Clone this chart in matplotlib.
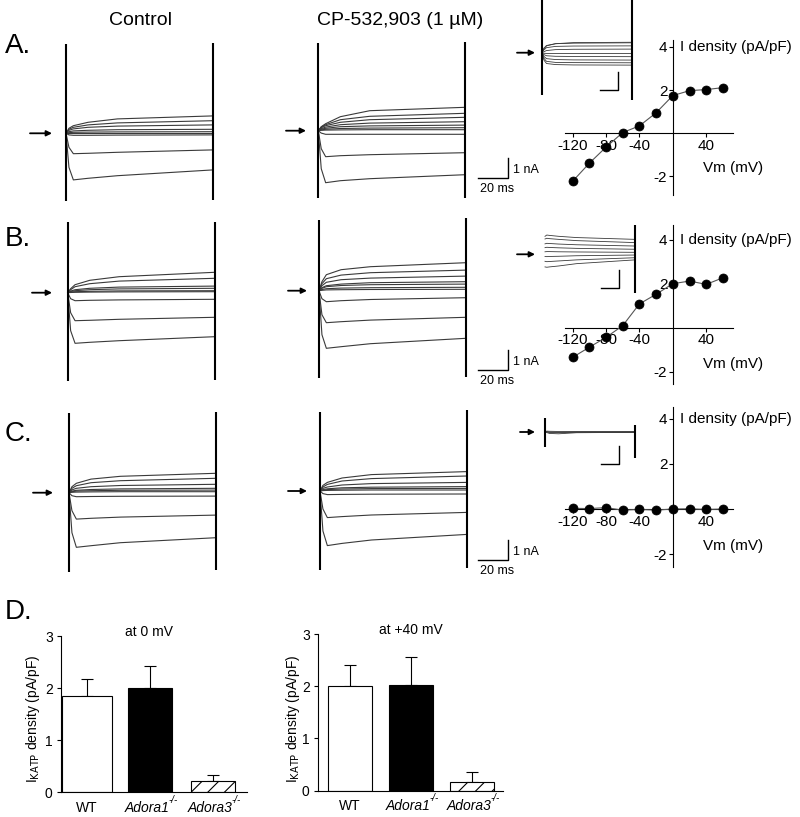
import matplotlib

matplotlib.use("Agg")

import matplotlib.pyplot as plt

plt.rcParams["font.family"] = ["Liberation Sans", "DejaVu Sans"]
plt.rcParams["axes.unicode_minus"] = False
plt.rcParams["hatch.linewidth"] = 0.8

W, H = 800, 817

# ---- current traces (nA) sampled at these times (ms) ----
T_MS = [0, 2, 5, 15, 35, 100]

CTRL_A = [
    [0, 0.25, 0.38, 0.55, 0.72, 0.87],
    [0, 0.20, 0.30, 0.42, 0.52, 0.63],
    [0, 0.15, 0.22, 0.30, 0.36, 0.42],
    [0, 0.08, 0.12, 0.15, 0.18, 0.20],
    [0, 0.03, 0.05, 0.06, 0.07, 0.08],
    [0, 0.00, 0.00, 0.00, 0.00, 0.00],
    [0, -0.08, -0.10, -0.10, -0.09, -0.08],
    [0, -0.70, -1.02, -1.00, -0.95, -0.83],
    [0, -1.70, -2.33, -2.25, -2.12, -1.83],
]
CP_A = [
    [0, 0.20, 0.35, 0.70, 1.00, 1.17],
    [0, 0.18, 0.30, 0.55, 0.72, 0.87],
    [0, 0.15, 0.25, 0.42, 0.55, 0.67],
    [0, 0.10, 0.18, 0.30, 0.38, 0.45],
    [0, 0.07, 0.12, 0.20, 0.24, 0.28],
    [0, 0.04, 0.07, 0.11, 0.13, 0.15],
    [0, 0.02, 0.03, 0.04, 0.05, 0.05],
    [0, -0.12, -0.18, -0.18, -0.18, -0.18],
    [0, -0.90, -1.30, -1.25, -1.20, -1.10],
    [0, -1.90, -2.60, -2.50, -2.40, -2.20],
]
CTRL_B = [
    [0, 0.20, 0.40, 0.62, 0.80, 1.02],
    [0, 0.15, 0.30, 0.45, 0.58, 0.72],
    [0, 0.08, 0.15, 0.22, 0.28, 0.33],
    [0, 0.06, 0.10, 0.15, 0.19, 0.22],
    [0, 0.03, 0.05, 0.07, 0.09, 0.10],
    [0, 0.01, 0.02, 0.03, 0.04, 0.05],
    [0, -0.30, -0.40, -0.38, -0.36, -0.33],
    [0, -1.00, -1.40, -1.38, -1.33, -1.23],
    [0, -1.90, -2.53, -2.48, -2.40, -2.20],
]
CP_B = [
    [0, 0.45, 0.80, 1.05, 1.20, 1.40],
    [0, 0.35, 0.60, 0.78, 0.90, 1.03],
    [0, 0.25, 0.42, 0.55, 0.63, 0.73],
    [0, 0.15, 0.25, 0.33, 0.40, 0.45],
    [0, 0.12, 0.20, 0.26, 0.30, 0.33],
    [0, 0.06, 0.10, 0.13, 0.15, 0.17],
    [0, 0.02, 0.04, 0.05, 0.06, 0.07],
    [0, -0.40, -0.55, -0.50, -0.44, -0.35],
    [0, -1.20, -1.60, -1.55, -1.47, -1.33],
    [0, -2.20, -2.88, -2.80, -2.65, -2.38],
]
CTRL_C = [
    [0, 0.30, 0.47, 0.68, 0.82, 0.97],
    [0, 0.22, 0.35, 0.50, 0.60, 0.72],
    [0, 0.14, 0.22, 0.30, 0.36, 0.42],
    [0, 0.08, 0.12, 0.16, 0.19, 0.22],
    [0, 0.05, 0.08, 0.10, 0.12, 0.13],
    [0, 0.02, 0.03, 0.04, 0.05, 0.05],
    [0, -0.15, -0.20, -0.19, -0.18, -0.17],
    [0, -0.90, -1.32, -1.28, -1.22, -1.12],
    [0, -2.00, -2.73, -2.65, -2.50, -2.25],
]
CP_C = [
    [0, 0.28, 0.43, 0.65, 0.82, 0.97],
    [0, 0.20, 0.33, 0.50, 0.62, 0.75],
    [0, 0.13, 0.20, 0.30, 0.37, 0.43],
    [0, 0.07, 0.11, 0.16, 0.19, 0.22],
    [0, 0.04, 0.07, 0.10, 0.12, 0.13],
    [0, 0.02, 0.03, 0.04, 0.05, 0.05],
    [0, -0.13, -0.18, -0.17, -0.16, -0.15],
    [0, -0.90, -1.33, -1.28, -1.20, -1.07],
    [0, -2.00, -2.73, -2.62, -2.45, -2.17],
]
# CP-sensitive currents shown in the small insets
INSET_A = [
    [0, 0.20, 0.38, 0.50, 0.56, 0.58],
    [0, 0.25, 0.40, 0.50, 0.53, 0.55],
    [0, 0.15, 0.28, 0.35, 0.37, 0.38],
    [0, 0.05, 0.12, 0.17, 0.19, 0.20],
    [0, -0.03, -0.04, -0.04, -0.04, -0.04],
    [0, -0.10, -0.17, -0.20, -0.21, -0.22],
    [0, -0.20, -0.33, -0.38, -0.40, -0.41],
    [0, -0.30, -0.48, -0.54, -0.55, -0.56],
    [0, -0.40, -0.60, -0.66, -0.68, -0.69],
]
INSET_B = [
    [1.00, 1.07, 1.05, 1.00, 0.93, 0.83],
    [0.85, 0.89, 0.87, 0.83, 0.76, 0.65],
    [0.58, 0.61, 0.60, 0.57, 0.53, 0.46],
    [0.37, 0.39, 0.38, 0.36, 0.33, 0.28],
    [0.14, 0.15, 0.15, 0.14, 0.13, 0.11],
    [-0.12, -0.13, -0.12, -0.11, -0.08, -0.04],
    [-0.39, -0.41, -0.40, -0.37, -0.31, -0.19],
    [-0.70, -0.72, -0.70, -0.65, -0.52, -0.31],
]
INSET_C = [
    [0, 0.05, 0.04, 0.03, 0.03, 0.03],
    [0, 0.02, 0.00, -0.02, 0.00, 0.01],
    [0, -0.03, -0.08, -0.10, -0.04, -0.02],
    [0, 0.00, -0.03, -0.04, -0.02, -0.03],
]

# clipped capacitive transients at step on / off: (top, bottom) in nA
SPIKES_CTRL_A = [(4.45, -3.40), (4.50, -3.33)]
SPIKES_CP_A = [(4.40, -3.37), (4.45, -3.38)]
SPIKES_CTRL_B = [(3.55, -4.40), (3.55, -4.37)]
SPIKES_CP_B = [(3.54, -4.38), (3.62, -4.30)]
SPIKES_CTRL_C = [(3.97, -3.95), (4.05, -3.87)]
SPIKES_CP_C = [(3.97, -3.95), (4.05, -3.87)]
SPIKES_INSET_A = [(2.95, -2.35), (2.95, -2.60)]
SPIKES_INSET_B = [None, (1.63, -2.13)]
SPIKES_INSET_C = [(0.78, -0.82), (0.39, -1.44)]

# ---- current-voltage relations ----
VM = [-120, -100, -80, -60, -40, -20, 0, 20, 40, 60]
IV_A = [-2.25, -1.41, -0.66, 0.02, 0.33, 0.94, 1.74, 1.97, 2.02, 2.11]
IV_B = [-1.35, -0.89, -0.44, 0.09, 1.08, 1.52, 2.00, 2.12, 1.97, 2.27]
IV_C = [0.03, 0.02, 0.06, -0.05, -0.02, -0.05, 0.00, 0.01, -0.02, 0.00]
VM_TICKS = [-120, -80, -40, 40]
I_TICKS = [-2, 2, 4]

# ---- KATP density summary ----
GENOTYPES = ["WT", "Adora1", "Adora3"]
KNOCKOUT = [False, True, True]
KATP_0MV = [1.85, 2.00, 0.22]
SEM_0MV = [0.32, 0.42, 0.10]
KATP_40MV = [2.00, 2.03, 0.16]
SEM_40MV = [0.40, 0.52, 0.20]
BAR_TICKS = [0, 1, 2, 3]

fig = plt.figure(figsize=(W / 100, H / 100), dpi=100)


def px_axes(x0, y0, x1, y1, **kw):
    # pixel box (top-left origin) -> figure fraction
    return fig.add_axes([x0 / W, 1 - y1 / H, (x1 - x0) / W, (y1 - y0) / H], **kw)


def trace_panel(x0, y0, px_ms, px_na, traces, spikes, t_span, i_span, lw):
    ax = px_axes(x0 + t_span[0] * px_ms, y0 - i_span[1] * px_na,
                 x0 + t_span[1] * px_ms, y0 - i_span[0] * px_na)
    ax.set_xlim(t_span)
    ax.set_ylim(i_span)
    ax.axis("off")
    for tr in traces:
        ax.plot(T_MS, tr, color="#3a3a3a", lw=lw, solid_joinstyle="round")
    for t, sp in zip((T_MS[0], T_MS[-1]), spikes):
        if sp is not None:
            ax.vlines(t, sp[1], sp[0], color="black", lw=1.5)
    return ax


def iv_panel(y_top, y_bottom, y_zero, px_unit, values):
    ax = px_axes(565, y_top, 733, y_bottom)
    ax.set_xlim(-129, 72)
    ax.set_ylim(-(y_bottom - y_zero) / px_unit, (y_zero - y_top) / px_unit)
    ax.patch.set_visible(False)
    for side in ("top", "right"):
        ax.spines[side].set_visible(False)
    ax.spines["left"].set_position("zero")
    ax.spines["bottom"].set_position("zero")
    for side in ("left", "bottom"):
        ax.spines[side].set_linewidth(0.8)
    ax.set_xticks(VM_TICKS)
    ax.set_yticks(I_TICKS)
    ax.set_xticklabels([str(v) for v in VM_TICKS])
    ax.set_yticklabels([str(v) for v in I_TICKS])
    ax.tick_params(length=3, width=0.8, labelsize=11, pad=1)
    ax.plot(VM, values, color="#555555", lw=0.8, marker="o", ms=6.5, mew=0.5,
            mfc="black", mec="black", zorder=3, clip_on=False)
    ax.text(8, 4, "I density (pA/pF)", fontsize=11, ha="left", va="center")
    ax.text(36, -1.65, "Vm (mV)", fontsize=11, ha="left", va="center")
    return ax


def bar_panel(x0, x1, y_top, y_bottom, xlim, widths, values, sems, title, title_xy, ylabel_x):
    ax = px_axes(x0, y_top, x1, y_bottom)
    pos = list(range(len(values)))
    ax.bar(pos, values, width=widths, color=["white", "black", "white"],
           edgecolor="black", linewidth=0.8, hatch=["", "", "//"], zorder=2)
    ax.errorbar(pos, values, yerr=[[0] * len(values), sems], fmt="none",
                ecolor="black", elinewidth=0.8, capsize=4, capthick=0.8, zorder=1)
    ax.set_xlim(xlim)
    ax.set_ylim(0, 3)
    ax.patch.set_visible(False)
    for side in ("top", "right"):
        ax.spines[side].set_visible(False)
    for side in ("left", "bottom"):
        ax.spines[side].set_linewidth(0.8)
    ax.set_yticks(BAR_TICKS)
    ax.set_yticklabels([str(v) for v in BAR_TICKS])
    ax.set_xticks([])
    ax.tick_params(axis="y", length=3, width=0.8, labelsize=10, pad=3)
    # genotype labels, knockouts italic with a raised -/-
    for p, name, ko in zip(pos, GENOTYPES, KNOCKOUT):
        ax.annotate(name, xy=(p, 0), xycoords="data", xytext=(-2 if ko else 0, -11.5),
                    textcoords="offset points", fontsize=10, ha="center", va="center",
                    style="italic" if ko else "normal")
        if ko:
            ax.annotate("-/-", xy=(p, 0), xycoords="data", xytext=(17, -5.5),
                        textcoords="offset points", fontsize=7, ha="center",
                        va="center", style="italic")
    ov.text(title_xy[0], title_xy[1], title, fontsize=10, ha="center", va="center")
    ov.text(ylabel_x, 719, r"I$_{\mathrm{KATP}}$ density (pA/pF)", fontsize=10,
            rotation=90, ha="center", va="center")
    return ax


# overlay in pixel coordinates for labels, arrows and scale bars
ov = fig.add_axes([0, 0, 1, 1], zorder=10)
ov.set_xlim(0, W)
ov.set_ylim(H, 0)
ov.axis("off")
ov.patch.set_visible(False)

MAIN_SPAN = ((-10, 110), (-4.6, 4.6))
INSET_SPAN = ((-5, 105), (-3.0, 3.0))

trace_panel(66, 133.3, 1.47, 20, CTRL_A, SPIKES_CTRL_A, *MAIN_SPAN, lw=0.8)
trace_panel(318.3, 130.7, 1.47, 20, CP_A, SPIKES_CP_A, *MAIN_SPAN, lw=0.8)
trace_panel(67.7, 292.7, 1.47, 20, CTRL_B, SPIKES_CTRL_B, *MAIN_SPAN, lw=0.8)
trace_panel(319, 290.7, 1.47, 20, CP_B, SPIKES_CP_B, *MAIN_SPAN, lw=0.8)
trace_panel(69, 492.7, 1.47, 20, CTRL_C, SPIKES_CTRL_C, *MAIN_SPAN, lw=0.8)
trace_panel(320, 491, 1.47, 20, CP_C, SPIKES_CP_C, *MAIN_SPAN, lw=0.8)
trace_panel(542, 52.7, 0.9, 18, INSET_A, SPIKES_INSET_A, *INSET_SPAN, lw=0.6)
trace_panel(545, 254.3, 0.9, 18, INSET_B, SPIKES_INSET_B, *INSET_SPAN, lw=0.6)
trace_panel(545, 432, 0.9, 18, INSET_C, SPIKES_INSET_C, *INSET_SPAN, lw=0.6)

iv_panel(40, 195, 133, 21.5, IV_A)
iv_panel(225, 384, 327.7, 22, IV_B)
iv_panel(407, 567, 509, 22.5, IV_C)

# zero-current arrows
arrows = [(30, 52, 133.3), (286, 306, 130.7), (517, 535, 52.7),
          (32, 52, 292.7), (288, 307, 290.7), (517, 535, 254.3),
          (33, 53, 492.7), (288, 307, 491), (520, 535, 432)]
for xa, xb, ya in arrows:
    ov.annotate("", xy=(xb, ya), xytext=(xa, ya),
                arrowprops=dict(arrowstyle="-|>", lw=1.3, color="black",
                                mutation_scale=8, shrinkA=0, shrinkB=0))

# scale bars: 20 ms / 1 nA
for yb in (178, 370, 560):
    ov.plot([478, 508, 508], [yb, yb, yb - 20.5], color="black", lw=1.0)
    ov.text(513, yb - 8, "1 nA", fontsize=9, ha="left", va="center")
    ov.text(480, yb + 11, "20 ms", fontsize=9, ha="left", va="center")
for xb, yb in ((600, 90), (601, 288.3), (601, 464.3)):
    ov.plot([xb, xb + 17.5, xb + 17.5], [yb, yb, yb - 18], color="black", lw=1.0)

# panel letters and column titles
for letter, yl in (("A.", 46), ("B.", 239), ("C.", 434), ("D.", 612)):
    ov.text(5, yl, letter, fontsize=20, ha="left", va="center")
ov.text(141, 20, "Control", fontsize=14, ha="center", va="center")
ov.text(400, 20, "CP-532,903 (1 \u00b5M)", fontsize=14, ha="center", va="center")

bar_panel(61, 247, 636, 792, (-0.41, 2.54), [0.8, 0.7, 0.7],
          KATP_0MV, SEM_0MV, "at 0 mV", (149, 632), 33)
bar_panel(318, 503, 634, 790.5, (-0.52, 2.51), [0.72, 0.72, 0.72],
          KATP_40MV, SEM_40MV, "at +40 mV", (411, 630), 293)

fig.savefig("out.png", dpi=100)
plt.close(fig)
